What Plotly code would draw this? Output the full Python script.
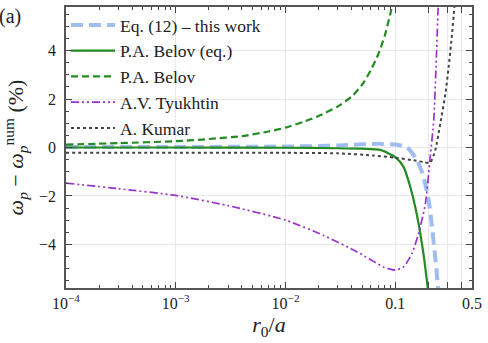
import plotly.graph_objects as go

# Eq. (12) - this work
x_eq12 = [1e-4, 1e-3, 0.01, 0.02, 0.03, 0.05, 0.07, 0.1, 0.128, 0.158, 0.181, 0.201, 0.216, 0.231, 0.243, 0.248]
y_eq12 = [0.02, 0.02, 0.04, 0.06, 0.08, 0.13, 0.15, 0.12, 0.0, -0.53, -1.22, -2.18, -3.28, -4.5, -5.6, -6.0]

# P.A. Belov (eq.)
x_belov_eq = [1e-4, 1e-3, 0.01, 0.03, 0.05, 0.073, 0.1, 0.119, 0.137, 0.152, 0.169, 0.184, 0.197, 0.2]
y_belov_eq = [0.0, 0.0, -0.01, -0.03, -0.05, -0.1, -0.4, -0.8, -1.63, -2.46, -3.55, -4.65, -5.75, -6.0]

# P.A. Belov
x_belov = [1e-4, 3e-4, 1e-3, 2e-3, 4e-3, 7e-3, 0.01, 0.015, 0.02, 0.03, 0.04, 0.05, 0.06, 0.07, 0.08, 0.09, 0.095]
y_belov = [0.12, 0.18, 0.26, 0.35, 0.47, 0.66, 0.82, 1.08, 1.3, 1.7, 2.1, 2.6, 3.2, 3.85, 4.6, 5.5, 6.0]

# A.V. Tyukhtin
x_tyuk = [1e-4, 3e-4, 1e-3, 3e-3, 0.01, 0.022, 0.045, 0.078, 0.1, 0.119, 0.142, 0.163, 0.188, 0.208, 0.224, 0.235, 0.245, 0.247]
y_tyuk = [-1.47, -1.7, -1.98, -2.4, -3.0, -3.62, -4.31, -4.93, -5.06, -4.93, -4.37, -3.55, -2.32, -0.4, 1.11, 3.3, 5.64, 6.0]

# A. Kumar
x_kumar = [1e-4, 1e-3, 0.01, 0.03, 0.063, 0.1, 0.147, 0.181, 0.208, 0.231, 0.257, 0.286, 0.306, 0.329, 0.345, 0.35]
y_kumar = [-0.22, -0.22, -0.22, -0.24, -0.33, -0.42, -0.53, -0.6, -0.63, -0.12, 0.98, 2.21, 3.3, 4.68, 5.77, 6.1]

x_tickvals = [1e-4, 1e-3, 1e-2, 0.1, 0.2, 0.3, 0.4, 0.4999]
x_ticktext = ["10<sup>−4</sup>", "10<sup>−3</sup>", "10<sup>−2</sup>", "0.1", "", "", "", "0.5"]
y_tickvals = [-4, -2, 0, 2, 4]
y_ticktext = ["−4", "−2", "0", "2", "4"]

font = "Liberation Serif"

fig = go.Figure()
fig.add_trace(go.Scatter(x=x_eq12, y=y_eq12, mode="lines", name="Eq. (12) – this work",
                         line=dict(color="#9fbdf0", width=4, dash="12px,6px", shape="spline", smoothing=0.6)))
fig.add_trace(go.Scatter(x=x_belov_eq, y=y_belov_eq, mode="lines", name="P.A. Belov (eq.)",
                         line=dict(color="#228b22", width=2.2, shape="spline", smoothing=0.6)))
fig.add_trace(go.Scatter(x=x_belov, y=y_belov, mode="lines", name="P.A. Belov",
                         line=dict(color="#228b22", width=2.2, dash="7px,4px", shape="spline", smoothing=0.6)))
fig.add_trace(go.Scatter(x=x_tyuk, y=y_tyuk, mode="lines", name="A.V. Tyukhtin",
                         line=dict(color="#9932cc", width=1.7, dash="8px,3px,2px,3px,2px,3px", shape="spline", smoothing=0.6)))
fig.add_trace(go.Scatter(x=x_kumar, y=y_kumar, mode="lines", name="A. Kumar",
                         line=dict(color="#444444", width=2, dash="dot", shape="spline", smoothing=0.6)))

fig.update_layout(
    width=488, height=343,
    margin=dict(l=66, r=16, t=5, b=55),
    plot_bgcolor="white", paper_bgcolor="white",
    font=dict(family=font, size=15, color="#222222"),
    legend=dict(x=0.0, y=1.0, xanchor="left", yanchor="top",
                bgcolor="rgba(0,0,0,0)", font=dict(size=17.5), itemwidth=44, tracegroupgap=0),
    annotations=[dict(text="(a)", x=0.0, y=1.0, xref="paper", yref="paper", xanchor="left",
                      yanchor="top", showarrow=False, font=dict(size=20), xshift=-69, yshift=4)],
)

fig.update_xaxes(
    type="log", range=[-4, -0.30103],
    tickvals=x_tickvals, ticktext=x_ticktext,
    ticks="inside", ticklen=6, tickcolor="#444444",
    showline=True, linecolor="#555555", linewidth=1.5, mirror="allticks",
    showgrid=True, gridcolor="#e8e8e8", gridwidth=1,
    minor=dict(ticks="inside", ticklen=3, tickcolor="#444444", dtick="D1", showgrid=False),
    title=dict(text="<i>r</i><sub>0</sub>/<i>a</i>", font=dict(size=22), standoff=2),
    tickfont=dict(size=16),
    zeroline=False,
)
fig.update_yaxes(
    range=[-5.8, 5.8],
    tickvals=y_tickvals, ticktext=y_ticktext,
    ticks="inside", ticklen=6, tickcolor="#444444",
    showline=True, linecolor="#555555", linewidth=1.5, mirror="allticks",
    showgrid=True, gridcolor="#e8e8e8", gridwidth=1,
    minor=dict(ticks="inside", ticklen=3, tickcolor="#444444", dtick=0.5, showgrid=False),
    title=dict(text="<i>ω</i><sub><i>p</i></sub> − <i>ω</i><sub><i>p</i></sub><sup>num</sup> (%)", font=dict(size=22), standoff=10),
    tickfont=dict(size=16),
    ticklabelstandoff=5,
    zeroline=False,
)

# the page body has a default 8px margin; drop it so the figure fills the window
fig.write_html("out.html", config={"displayModeBar": False},
               post_script="document.body.style.margin='0';")
